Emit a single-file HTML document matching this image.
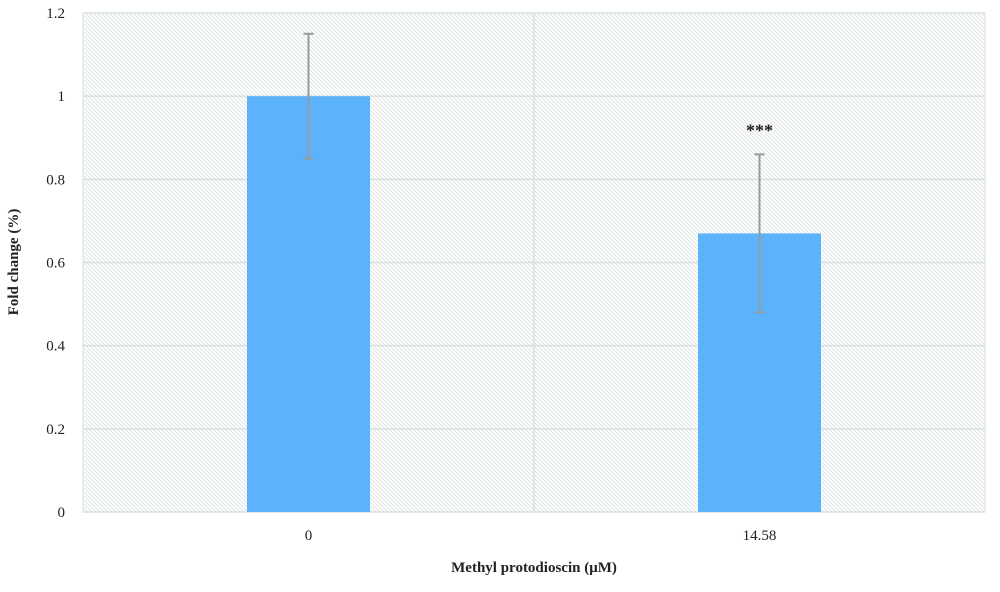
<!DOCTYPE html>
<html><head><meta charset="utf-8"><style>
html,body{margin:0;padding:0;background:#fff;}
svg text{font-family:"Liberation Serif",serif;fill:#222;}
</style></head><body>
<svg id="chart" width="1000" height="587" xmlns="http://www.w3.org/2000/svg">
<defs>
<pattern id="hatch" width="4" height="4" patternUnits="userSpaceOnUse">
<rect width="4" height="4" fill="#fff"/>
<path d="M-1,-1 L5,5 M-1,3 L1,5 M3,-1 L5,1" stroke="#e0e5e5" stroke-width="1"/>
</pattern>
</defs>
<rect x="83" y="13" width="902" height="499" fill="url(#hatch)" stroke="#d9e0e0"/>
<g id="grid"></g>
<g id="bars"></g>
<g id="labels"></g>
<text x="18" y="262" font-size="15" font-weight="bold" text-anchor="middle" transform="rotate(-90 18 262)">Fold change (%)</text>
<text x="534" y="572" font-size="15" font-weight="bold" text-anchor="middle">Methyl protodioscin (μM)</text>
</svg>
<script>
const categories = ["0", "14.58"];
const values = [1, 0.67];
const errors = [0.15, 0.19];
const sigLabels = ["", "***"];
const yTicks = [0, 0.2, 0.4, 0.6, 0.8, 1, 1.2];
const yTickLabels = ["0", "0.2", "0.4", "0.6", "0.8", "1", "1.2"];

const NS = "http://www.w3.org/2000/svg";
const plotLeft = 83, plotRight = 985, plotTop = 13, plotBottom = 512;
const yScale = v => plotBottom - (v / 1.2) * (plotBottom - plotTop);
const band = (plotRight - plotLeft) / categories.length;
const xc = i => plotLeft + band * (i + 0.5);
const barW = 123;
function mk(tag, attrs, parent) {
  const e = document.createElementNS(NS, tag);
  for (const k in attrs) e.setAttribute(k, attrs[k]);
  parent.appendChild(e);
  return e;
}
const grid = document.getElementById("grid");
const bars = document.getElementById("bars");
const labels = document.getElementById("labels");
yTicks.forEach((t, i) => {
  const l = mk("line", {x1: plotLeft, x2: plotRight, y1: yScale(t), y2: yScale(t), stroke: "#d9e0e0", "stroke-width": 1.5}, grid);
  
  
  const tx = mk("text", {x: 65, y: yScale(t) + 5, "font-size": 15, "text-anchor": "end"}, labels);
  tx.textContent = yTickLabels[i];
  
  
});
for (let i = 1; i < categories.length; i++) {
  const d = mk("line", {x1: plotLeft + band * i, x2: plotLeft + band * i, y1: plotTop, y2: plotBottom, stroke: "#d9e0e0", "stroke-width": 1.5}, grid);
  
  
}
categories.forEach((c, i) => {
  const cx = xc(i);
  const r = mk("rect", {x: cx - barW / 2, y: yScale(values[i]), width: barW, height: plotBottom - yScale(values[i]), fill: "#5db3fb"}, bars);
  
  
  const hi = yScale(values[i] + errors[i]), lo = yScale(values[i] - errors[i]);
  const eb = mk("path", {d: `M${cx},${hi} L${cx},${lo} M${cx-5},${hi} L${cx+5},${hi} M${cx-5},${lo} L${cx+5},${lo}`, stroke: "#939d9d", "stroke-width": 2, fill: "none"}, bars);
  
  
  if (sigLabels[i]) {
    const s = mk("text", {x: cx, y: hi - 18, "font-size": 18, "font-weight": "bold", "text-anchor": "middle"}, labels);
    s.textContent = sigLabels[i];
    
    
  }
  const t = mk("text", {x: cx, y: 540, "font-size": 15, "text-anchor": "middle"}, labels);
  t.textContent = c;
  
  
});
</script>
</body></html>
